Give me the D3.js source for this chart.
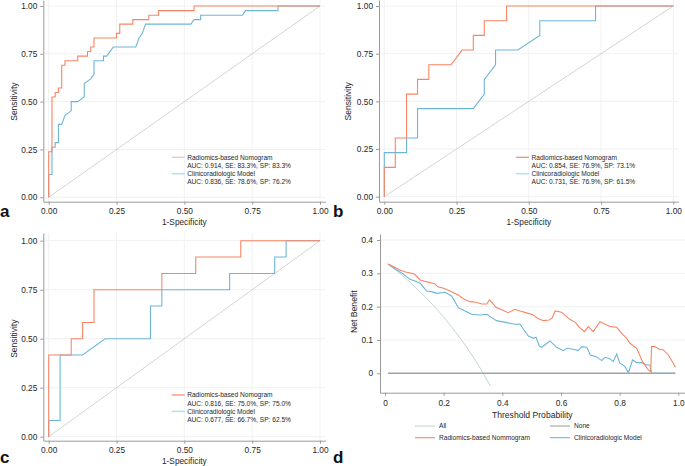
<!DOCTYPE html>
<html><head><meta charset="utf-8">
<script src="https://cdn.jsdelivr.net/npm/d3@7"></script>
<style>body{margin:0;background:#fff}svg{display:block;font-family:"Liberation Sans",Arial,sans-serif}</style>
</head><body><svg id="chart" width="685" height="466"></svg>
<script>
// ---------- DATA ----------
const rocTicks = [0, 0.25, 0.5, 0.75, 1];
const rocTickLabels = ["0.00", "0.25", "0.50", "0.75", "1.00"];
const seriesNames = ["Radiomics-based Nomogram", "Clinicoradiologic Model"];

// panel a (training) [1-specificity, sensitivity]
const aRadiomics = [[0,0],[0,0.238],[0.012,0.238],[0.012,0.524],[0.024,0.524],[0.024,0.548],[0.036,0.548],[0.036,0.571],[0.048,0.571],[0.048,0.69],[0.06,0.69],[0.06,0.714],[0.107,0.714],[0.107,0.738],[0.143,0.738],[0.143,0.762],[0.155,0.762],[0.155,0.786],[0.167,0.786],[0.167,0.833],[0.25,0.833],[0.25,0.857],[0.262,0.857],[0.262,0.905],[0.31,0.905],[0.31,0.929],[0.369,0.929],[0.369,0.952],[0.405,0.952],[0.405,0.976],[0.536,0.976],[0.536,1],[1,1]];
const aClinical = [[0,0],[0,0.119],[0.012,0.119],[0.012,0.262],[0.024,0.262],[0.024,0.286],[0.036,0.286],[0.036,0.381],[0.048,0.381],[0.06,0.429],[0.071,0.44],[0.083,0.452],[0.083,0.5],[0.107,0.5],[0.131,0.524],[0.131,0.595],[0.155,0.619],[0.167,0.643],[0.167,0.714],[0.202,0.714],[0.202,0.738],[0.214,0.738],[0.238,0.786],[0.321,0.786],[0.333,0.833],[0.345,0.857],[0.357,0.905],[0.524,0.905],[0.536,0.929],[0.56,0.929],[0.56,0.952],[0.714,0.952],[0.726,0.976],[0.845,0.976],[0.845,1],[1,1]];
const aStats = ["AUC: 0.914, SE: 83.3%, SP: 83.3%", "AUC: 0.836, SE: 78.6%, SP: 76.2%"];

// panel b
const bRadiomics = [[0,0],[0,0.154],[0.038,0.154],[0.038,0.308],[0.077,0.308],[0.077,0.538],[0.115,0.538],[0.115,0.615],[0.154,0.615],[0.154,0.692],[0.231,0.692],[0.269,0.769],[0.308,0.769],[0.308,0.846],[0.346,0.846],[0.346,0.923],[0.423,0.923],[0.423,1],[1,1]];
const bClinical = [[0,0],[0,0.231],[0.077,0.231],[0.077,0.308],[0.115,0.308],[0.115,0.462],[0.308,0.462],[0.346,0.538],[0.346,0.615],[0.385,0.692],[0.385,0.769],[0.462,0.769],[0.538,0.846],[0.538,0.923],[0.731,0.923],[0.731,1],[1,1]];
const bStats = ["AUC: 0.854, SE: 76.9%, SP: 73.1%", "AUC: 0.731, SE: 76.9%, SP: 61.5%"];

// panel c
const cRadiomics = [[0,0],[0,0.417],[0.083,0.417],[0.083,0.5],[0.125,0.5],[0.125,0.583],[0.167,0.583],[0.167,0.75],[0.417,0.75],[0.417,0.833],[0.542,0.833],[0.542,0.917],[0.708,0.917],[0.708,1],[1,1]];
const cClinical = [[0,0],[0,0.083],[0.042,0.083],[0.042,0.417],[0.125,0.417],[0.208,0.5],[0.375,0.5],[0.375,0.667],[0.417,0.667],[0.417,0.75],[0.667,0.75],[0.667,0.833],[0.833,0.833],[0.833,0.917],[0.875,0.917],[0.875,1],[1,1]];
const cStats = ["AUC: 0.816, SE: 75.0%, SP: 75.0%", "AUC: 0.677, SE: 66.7%, SP: 62.5%"];

// panel d (decision curve)
const dTicksX = [0, 0.2, 0.4, 0.6, 0.8, 1.0];
const dTickLabelsX = ["0", "0.2", "0.4", "0.6", "0.8", "1.0"];
const dTicksY = [0, 0.1, 0.2, 0.3, 0.4];
const dTickLabelsY = ["0", "0.1", "0.2", "0.3", "0.4"];
const dLegendNames = ["All", "None", "Radiomics-based Nommogram", "Clinicoradiologic Model"];
const dAllX = [0.01,0.02,0.04,0.06,0.08,0.10,0.12,0.14,0.16,0.18,0.20,0.22,0.24,0.26,0.28,0.30,0.32,0.34,0.36];
const dAllY = [0.328,0.321,0.307,0.293,0.277,0.261,0.244,0.227,0.208,0.189,0.169,0.147,0.125,0.101,0.076,0.050,0.022,-0.008,-0.039];
const dNoneX = [0.01, 0.99];
const dNoneY = [0, 0];
const dRadX = [0.01,0.03,0.05,0.07,0.09,0.10,0.12,0.14,0.16,0.17,0.18,0.20,0.22,0.25,0.27,0.29,0.31,0.33,0.347,0.356,0.365,0.378,0.40,0.42,0.443,0.46,0.48,0.506,0.52,0.54,0.56,0.57,0.58,0.602,0.63,0.65,0.66,0.68,0.693,0.71,0.733,0.756,0.77,0.79,0.807,0.824,0.835,0.858,0.878,0.898,0.906,0.909,0.92,0.935,0.949,0.966,0.983,0.99];
const dRadY = [0.328,0.320,0.310,0.304,0.300,0.298,0.280,0.275,0.271,0.269,0.260,0.255,0.248,0.235,0.222,0.215,0.213,0.208,0.208,0.220,0.212,0.198,0.190,0.182,0.192,0.187,0.182,0.175,0.165,0.158,0.160,0.166,0.187,0.183,0.162,0.152,0.140,0.125,0.140,0.125,0.155,0.145,0.140,0.138,0.120,0.105,0.090,0.075,0.035,0.010,0.005,0.080,0.080,0.072,0.070,0.055,0.030,0.018];
const dClinX = [0.01,0.04,0.0625,0.085,0.10,0.12,0.142,0.159,0.176,0.205,0.227,0.25,0.273,0.295,0.324,0.347,0.364,0.38,0.415,0.443,0.46,0.474,0.489,0.506,0.515,0.526,0.534,0.5625,0.585,0.608,0.62,0.642,0.659,0.67,0.688,0.70,0.72,0.739,0.75,0.767,0.778,0.79,0.80,0.818,0.83,0.844,0.858,0.875,0.892,0.903,0.909,0.99];
const dClinY = [0.328,0.310,0.298,0.282,0.278,0.270,0.247,0.245,0.240,0.243,0.232,0.197,0.187,0.177,0.175,0.177,0.167,0.158,0.152,0.147,0.148,0.130,0.112,0.105,0.108,0.082,0.078,0.097,0.078,0.068,0.075,0.072,0.068,0.080,0.078,0.055,0.050,0.038,0.048,0.044,0.035,0.058,0.032,0.020,0.002,0.040,0.032,0.032,0.025,0.025,0,0];

// ---------- STYLE ----------
const ORANGE = "#F98565", BLUE = "#6DB6D9";
const ORANGE_L = "#FBB9A6", BLUE_L = "#B9DEEE";
const AXIS = "#9a9a9a", GRID = "#f1f1f1", TXT = "#262626";

const svg = d3.select("#chart");
svg.append("rect").attr("width", 685).attr("height", 466).attr("fill", "#fff");

function styleAxis(g) {
  g.select(".domain").attr("stroke", AXIS).attr("stroke-width", 1);
  g.selectAll(".tick line").attr("stroke", AXIS);
  g.selectAll(".tick text").attr("fill", TXT).attr("font-size", 8.3);
}

function rocPanel(cfg) {
  const x = d3.scaleLinear().domain([0, 1]).range([cfg.x0, cfg.x1]);
  const y = d3.scaleLinear().domain([0, 1]).range([cfg.y0, cfg.y1]);
  const xl = cfg.axL, xr = cfg.axR, yb = cfg.axB, yt = cfg.axT;
  const g = svg.append("g");
  rocTicks.forEach(t => {
    g.append("line").attr("x1", x(t)).attr("x2", x(t)).attr("y1", yt).attr("y2", yb).attr("stroke", GRID);
    g.append("line").attr("x1", xl).attr("x2", xr).attr("y1", y(t)).attr("y2", y(t)).attr("stroke", GRID);
  });
  const xa = d3.scaleLinear().domain([x.invert(xl), x.invert(xr)]).range([xl, xr]);
  const ya = d3.scaleLinear().domain([y.invert(yb), y.invert(yt)]).range([yb, yt]);
  g.append("g").attr("transform", `translate(0,${yb})`)
    .call(d3.axisBottom(xa).tickValues(rocTicks).tickFormat((d, i) => rocTickLabels[i]).tickSize(3).tickSizeOuter(0).tickPadding(3))
    .call(styleAxis);
  g.append("g").attr("transform", `translate(${xl},0)`)
    .call(d3.axisLeft(ya).tickValues(rocTicks).tickFormat((d, i) => rocTickLabels[i]).tickSize(3).tickSizeOuter(0).tickPadding(3))
    .call(styleAxis);
  g.append("line").attr("x1", x(0)).attr("y1", y(0)).attr("x2", x(1)).attr("y2", y(1))
    .attr("stroke", "#c9c9c9").attr("stroke-width", 0.8);
  const line = d3.line().x(d => x(d[0])).y(d => y(d[1]));
  g.append("path").datum(cfg.clin).attr("d", line).attr("fill", "none").attr("stroke", BLUE).attr("stroke-width", 1.1);
  g.append("path").datum(cfg.rad).attr("d", line).attr("fill", "none").attr("stroke", ORANGE).attr("stroke-width", 1.1);
  g.append("text").attr("x", (x(0) + x(1)) / 2).attr("y", cfg.xtY).attr("text-anchor", "middle")
    .attr("font-size", 8.3).attr("fill", TXT).text("1-Specificity");
  g.append("text").attr("transform", `translate(${cfg.ytX},${(y(0) + y(1)) / 2}) rotate(-90)`)
    .attr("text-anchor", "middle").attr("font-size", 8.5).attr("fill", TXT).text("Sensitivity");
  const lg = g.append("g").attr("font-size", 6.6).attr("fill", TXT);
  const lx = cfg.legX, ly = cfg.legY, dy = 8.2;
  lg.append("line").attr("x1", lx).attr("x2", lx + 13).attr("y1", ly).attr("y2", ly).attr("stroke", cfg.legCol[0]).attr("stroke-width", 1.2);
  lg.append("text").attr("x", lx + 15.5).attr("y", ly).attr("dy", "0.35em").text(seriesNames[0]);
  lg.append("text").attr("x", lx + 15.5).attr("y", ly + dy).attr("dy", "0.35em").text(cfg.stats[0]);
  lg.append("line").attr("x1", lx).attr("x2", lx + 13).attr("y1", ly + 2 * dy).attr("y2", ly + 2 * dy).attr("stroke", cfg.legCol[1]).attr("stroke-width", 1.6);
  lg.append("text").attr("x", lx + 15.5).attr("y", ly + 2 * dy).attr("dy", "0.35em").text(seriesNames[1]);
  lg.append("text").attr("x", lx + 15.5).attr("y", ly + 3 * dy).attr("dy", "0.35em").text(cfg.stats[1]);
  svg.append("text").attr("x", cfg.letX).attr("y", cfg.letY).attr("font-size", 17).attr("font-weight", "bold")
    .attr("fill", "#111").text(cfg.letter);
}

rocPanel({x0: 48.7, x1: 320, y0: 197.3, y1: 6, axL: 43.3, axR: 325.4, axB: 201.7, axT: 0,
  rad: aRadiomics, clin: aClinical, stats: aStats, xtY: 225, ytX: 16.5,
  legX: 171.7, legY: 157.3, legCol: [ORANGE_L, BLUE_L], letter: "a", letX: 0, letY: 217});
rocPanel({x0: 384.3, x1: 673.3, y0: 196.7, y1: 6, axL: 379, axR: 678.3, axB: 201.7, axT: 0,
  rad: bRadiomics, clin: bClinical, stats: bStats, xtY: 225, ytX: 350.5,
  legX: 516, legY: 157.3, legCol: [ORANGE, BLUE_L], letter: "b", letX: 333, letY: 217});
rocPanel({x0: 48.7, x1: 320, y0: 436.7, y1: 240.7, axL: 43.3, axR: 325.4, axB: 440.7, axT: 233,
  rad: cRadiomics, clin: cClinical, stats: cStats, xtY: 464.3, ytX: 16.5,
  legX: 171.7, legY: 395, legCol: [ORANGE, BLUE_L], letter: "c", letX: 0, letY: 463});

// ---------- panel d ----------
(function () {
  const x = d3.scaleLinear().domain([0, 1]).range([385, 678.3]);
  const y = d3.scaleLinear().domain([0, 0.4]).range([373.3, 240]);
  const xl = 380, xr = 685, yb = 392.7, yt = 234;
  const g = svg.append("g");
  dTicksY.slice(1).forEach(t => {
    g.append("line").attr("x1", xl).attr("x2", xr).attr("y1", y(t)).attr("y2", y(t)).attr("stroke", GRID);
  });
  const xa = d3.scaleLinear().domain([x.invert(xl), x.invert(xr)]).range([xl, xr]);
  const ya = d3.scaleLinear().domain([y.invert(yb), y.invert(yt)]).range([yb, yt]);
  g.append("g").attr("transform", `translate(0,${yb})`)
    .call(d3.axisBottom(xa).tickValues(dTicksX).tickFormat((d, i) => dTickLabelsX[i]).tickSize(3).tickSizeOuter(0).tickPadding(4))
    .call(styleAxis);
  g.append("g").attr("transform", `translate(${xl},0)`)
    .call(d3.axisLeft(ya).tickValues(dTicksY).tickFormat((d, i) => dTickLabelsY[i]).tickSize(3).tickSizeOuter(0).tickPadding(4))
    .call(styleAxis);
  const line = d3.line().x(d => x(d[0])).y(d => y(d[1]));
  const zip = (xs, ys) => xs.map((v, i) => [v, ys[i]]);
  g.append("path").datum(zip(dAllX, dAllY)).attr("d", line.curve(d3.curveMonotoneX)).attr("fill", "none").attr("stroke", "#C3D6D2").attr("stroke-width", 1);
  line.curve(d3.curveLinear);
  g.append("path").datum(zip(dNoneX, dNoneY)).attr("d", line).attr("fill", "none").attr("stroke", "#a3a3a3").attr("stroke-width", 1.4);
  g.append("path").datum(zip(dClinX, dClinY)).attr("d", line).attr("fill", "none").attr("stroke", BLUE).attr("stroke-width", 1.1);
  g.append("path").datum(zip(dRadX, dRadY)).attr("d", line).attr("fill", "none").attr("stroke", ORANGE).attr("stroke-width", 1.1);
  g.append("text").attr("x", 532.3).attr("y", 417.5).attr("text-anchor", "middle").attr("font-size", 8.6).attr("fill", TXT).text("Threshold Probability");
  g.append("text").attr("transform", `translate(356.5,${(y(0) + y(0.4)) / 2 + 5}) rotate(-90)`)
    .attr("text-anchor", "middle").attr("font-size", 8.6).attr("fill", TXT).text("Net Benefit");
  const cols = ["#C3D6D2", "#a3a3a3", ORANGE, BLUE];
  const pos = [[415, 426], [550, 426], [415, 437.7], [550, 437.7]];
  const lg = g.append("g").attr("font-size", 6.6).attr("fill", TXT);
  dLegendNames.forEach((n, i) => {
    lg.append("line").attr("x1", pos[i][0]).attr("x2", pos[i][0] + 20).attr("y1", pos[i][1]).attr("y2", pos[i][1]).attr("stroke", cols[i]).attr("stroke-width", 1.1);
    lg.append("text").attr("x", pos[i][0] + 24).attr("y", pos[i][1]).attr("dy", "0.35em").text(n);
  });
  svg.append("text").attr("x", 333).attr("y", 463).attr("font-size", 17).attr("font-weight", "bold").attr("fill", "#111").text("d");
})();
</script></body></html>
